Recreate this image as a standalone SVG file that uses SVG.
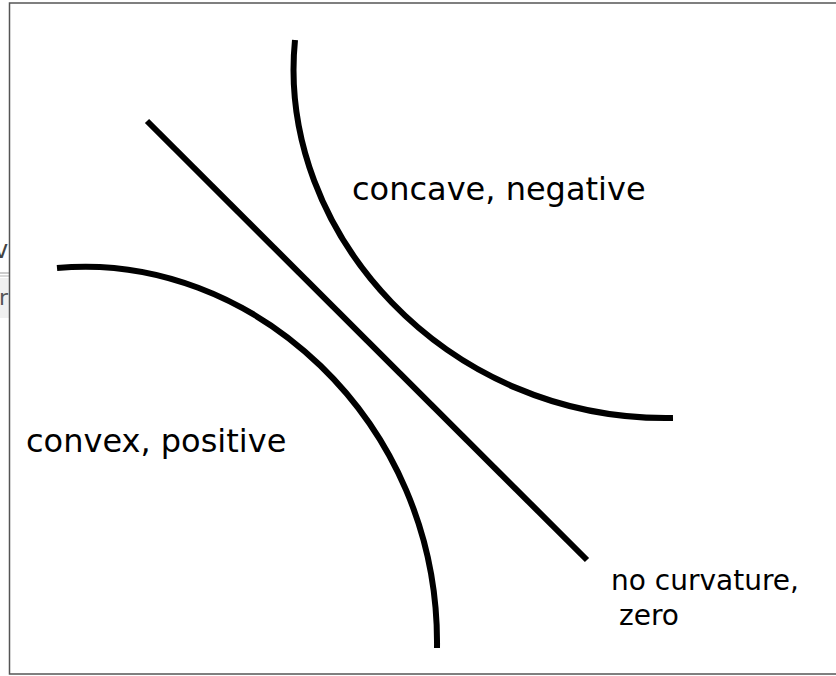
<svg xmlns="http://www.w3.org/2000/svg" width="836" height="676" viewBox="0 0 836 676">
<style>
.curve{fill:none;stroke:#000;stroke-width:6}
.lbl{font-family:"DejaVu Sans",sans-serif;font-size:32px;fill:#000}
.small{font-size:28px}
</style>
<rect width="836" height="676" fill="#fff"/>
<g id="artifacts">
<text x="-6" y="258" font-family="DejaVu Sans,sans-serif" font-size="24" fill="#444">v</text>
<line x1="0" y1="273" x2="9" y2="273" stroke="#bbb" stroke-width="1.5"/>
<line x1="0" y1="276" x2="9" y2="276" stroke="#ccc" stroke-width="1.5"/>
<rect x="0" y="278" width="9" height="40" fill="#f0f0f0"/>
<text x="-1" y="305" font-family="DejaVu Sans,sans-serif" font-size="22" fill="#555">ra</text>
</g>
<rect x="9.5" y="3" width="840" height="671" fill="#fff" stroke="#555" stroke-width="1.5"/>
<g id="connectors">
<line class="curve" x1="147" y1="121" x2="587" y2="560"/>
<path id="concave" class="curve" d="M295,40 C276,232 446,422 673,418"/>
<path id="convex" class="curve" d="M57,268 C250,250 440,420 437,648"/>
</g>
<g id="label-concave"><text class="lbl" x="352" y="200">concave, negative</text></g>
<g id="label-convex"><text class="lbl" x="26" y="452">convex, positive</text></g>
<g id="label-zero"><text class="lbl small" x="611" y="590">no curvature,</text><text class="lbl small" x="619" y="625">zero</text></g>
</svg>
